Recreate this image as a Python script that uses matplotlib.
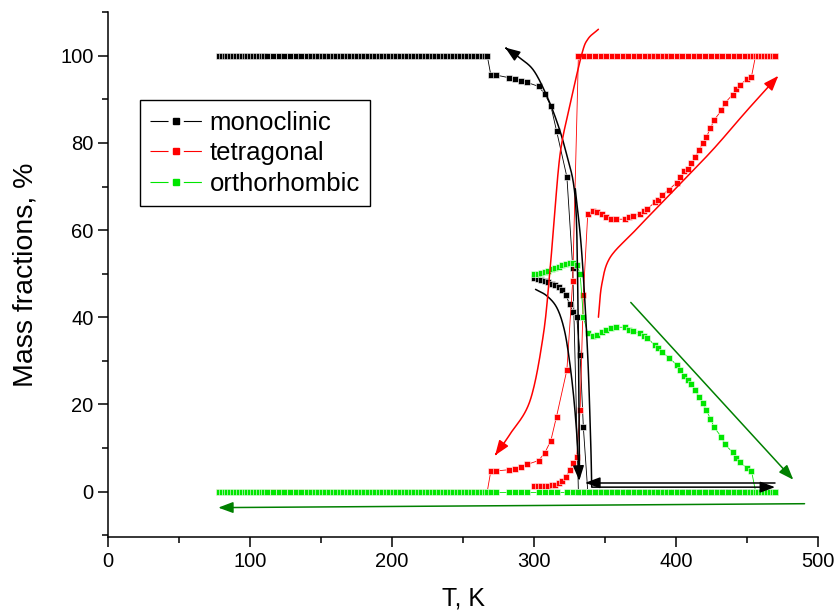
import numpy as np
import matplotlib
matplotlib.use('Agg')
import matplotlib.pyplot as plt
from matplotlib.path import Path
from matplotlib.patches import FancyArrowPatch
from matplotlib.lines import Line2D
from matplotlib.ticker import MultipleLocator

plt.rcParams['font.family'] = ['Liberation Sans', 'DejaVu Sans']

# ---- run A: plateau, transition near 265-330 K ----
T_plateau = [78, 80, 82, 84, 86, 88, 90, 92, 94, 96, 98, 100, 102, 104, 106, 108, 110, 112,
             116, 120, 124, 128, 132, 136, 140,
             143, 145.5, 148, 150.5, 153, 155.5, 158, 160.5, 163, 165.5, 168, 170.5, 173,
             175.5, 178, 180.5, 183, 185.5, 188, 190.5, 193, 195.5, 198, 200.5, 203, 205.5,
             208, 210.5, 213, 215.5, 218, 220.5, 223, 225.5, 228, 230.5, 233, 235.5, 238,
             240.5, 243, 245.5, 248, 250.5, 253, 255.5, 258, 260.5, 263, 265.5, 267]
T_trans_A = [269.5, 273, 282, 286.3, 290.8, 295, 303.1, 307.6, 311.8, 315.8, 323.1, 327.2]
T_high_A = [331.2, 335.2, 339, 343, 347, 350.8, 354.7, 358.6, 362.5, 366.4, 370.3, 374.2,
            378, 381.5, 384.5, 387.5, 390.5, 393.5, 396.5, 400.5, 404.5, 408.5, 412.5,
            416.5, 420.5, 424.5, 428.5, 432.5, 436.5, 440.5, 444.5, 448.5, 452, 454.5,
            457, 459.5, 462, 464.5, 467, 469.5]
mono_trans_A = [95.6, 95.6, 95.0, 94.6, 94.3, 93.9, 93.0, 91.2, 88.5, 82.8, 72.2, 51.4]
tetra_trans_A = [4.7, 4.7, 5.0, 5.2, 5.7, 6.2, 7.1, 8.9, 11.7, 17.2, 27.9, 48.4]

T_A = T_plateau + T_trans_A + T_high_A
mono_A = [100.0] * len(T_plateau) + mono_trans_A + [0.0] * len(T_high_A)
tetra_A = [0.0] * len(T_plateau) + tetra_trans_A + [100.0] * len(T_high_A)
ortho_A = [0.0] * len(T_A)

# ---- run B: starts at 300 K ----
T_low_B = [300, 302.5, 305, 307.5, 310, 312.5, 315, 317.5, 320, 322.5, 325, 327.5, 330,
           332.4, 334.7]
T_mid_B = [337.8, 341.3, 344, 347.9, 350.7, 354, 358, 363.7, 366.8, 369.5, 374.3, 377.1,
           379.7, 384.9, 387.5, 390.3, 395, 400.4, 403, 405.8, 408.4, 410.8, 413.6, 416.1,
           418.8, 421.4, 424.2, 426.9, 432, 434.5, 439.8, 442.5, 444.9, 450, 453.1]
T_end_B = [456, 458, 460, 462, 464, 466, 468, 470]

mono_low_B = [48.9, 48.8, 48.6, 48.3, 48.0, 47.7, 47.3, 46.9, 46.3, 45.0, 43.0, 41.2, 40.0,
              31.4, 14.7]
tetra_low_B = [1.2, 1.2, 1.2, 1.3, 1.3, 1.4, 1.6, 1.9, 2.4, 3.4, 4.9, 6.5, 7.9, 18.6, 45.1]
ortho_low_B = [49.9, 50.0, 50.2, 50.4, 50.7, 51.0, 51.3, 51.6, 52.0, 52.3, 52.5, 52.4, 52.1,
               50.0, 40.1]
tetra_mid_B = [63.8, 64.3, 64.1, 63.7, 63.1, 62.5, 62.5, 62.5, 62.9, 63.2, 63.7, 64.3, 64.8,
               66.4, 66.9, 68.1, 69.3, 70.9, 72.1, 73.5, 74.0, 75.3, 76.8, 78.4, 79.9, 81.4,
               83.4, 85.3, 87.5, 89.2, 91.1, 92.5, 93.3, 94.7, 95.2]
ortho_mid_B = [36.3, 35.8, 36.0, 36.5, 37.1, 37.5, 37.7, 37.7, 37.1, 36.8, 36.3, 35.8, 35.3,
               33.6, 33.0, 32.0, 30.7, 29.1, 27.9, 26.5, 25.7, 24.7, 23.3, 21.6, 20.3, 18.6,
               16.7, 14.7, 12.5, 10.8, 9.0, 7.7, 6.7, 5.4, 4.8]

T_B = T_low_B + T_mid_B + T_end_B
mono_B = mono_low_B + [0.0] * (len(T_mid_B) + len(T_end_B))
tetra_B = tetra_low_B + tetra_mid_B + [100.0] * len(T_end_B)
ortho_B = ortho_low_B + ortho_mid_B + [0.0] * len(T_end_B)

# hand-drawn arrows (data coords)
arrow_black_up = [(332.0, 3.3), (331.5, 25), (330.6, 50), (329.6, 64), (327.6, 71), (324, 76),
                  (318, 83), (310, 90), (300, 96.5), (290, 99.5), (279.6, 101.9)]
arrow_black_down = [(301, 46.4), (309, 44.9), (316, 42.2), (321, 37.5), (324.5, 31),
                    (327.8, 22), (330.3, 12), (331.8, 2.5)]
arrow_black_right = [(329.0, 69.5), (333.5, 55), (337.6, 32.3), (339.8, 12), (340.6, 1.0)]
arrow_black_right_end = (469.7, 1.0)
arrow_black_left = [(469.7, 2.0), (336.0, 2.0)]
arrow_red_down = [(345.3, 106.1), (338, 103.9), (333.6, 100.4), (325.4, 88.9), (318.3, 77.4),
                  (313.6, 60), (311.3, 51.4), (306.6, 36.2), (297.2, 20.9), (283.1, 13.2),
                  (272.5, 8.3)]
arrow_red_up = [(345.3, 40), (347.7, 47.6), (353.5, 53.7), (370, 59.5), (381.7, 63.5),
                (402.8, 70.6), (426.3, 78.6), (449.8, 87.4), (472, 95.4)]
arrow_green_diag = [(368.1, 43.4), (482.6, 2.7)]
arrow_green_low = [(490.5, -2.8), (77.5, -3.7)]

BLACK = '#000000'
RED = '#ff0000'
GREEN = '#00e600'
DKGREEN = '#008000'


def smooth(pts, n=24):
    # Catmull-Rom through the picked points
    p = np.asarray(pts, float)
    p = np.vstack([2 * p[0] - p[1], p, 2 * p[-1] - p[-2]])
    out = []
    for i in range(1, len(p) - 2):
        p0, p1, p2, p3 = p[i - 1], p[i], p[i + 1], p[i + 2]
        for t in np.linspace(0, 1, n, endpoint=False):
            out.append(0.5 * (2 * p1 + (-p0 + p2) * t + (2 * p0 - 5 * p1 + 4 * p2 - p3) * t ** 2
                              + (-p0 + 3 * p1 - 3 * p2 + p3) * t ** 3))
    out.append(p[-2])
    return np.array(out)


def draw_arrow(ax, verts, color, lw=1.1):
    a = FancyArrowPatch(path=Path(np.asarray(verts, float)),
                        arrowstyle='-|>,head_length=0.75,head_width=0.28',
                        mutation_scale=12, color=color, lw=lw, zorder=6)
    ax.add_patch(a)


fig = plt.figure(figsize=(8.39, 6.14), dpi=100)
ax = fig.add_axes([0.129, 0.125, 0.846, 0.855])

style = dict(marker='s', markersize=4.8, markeredgecolor='white', markeredgewidth=0.4, lw=0.6)
ax.plot(T_A, mono_A, color=BLACK, zorder=2, **style)
ax.plot(T_B, mono_B, color=BLACK, zorder=2, **style)
ax.plot(T_A, tetra_A, color=RED, zorder=3, **style)
ax.plot(T_B, tetra_B, color=RED, zorder=3, **style)
ax.plot(T_A, ortho_A, color=GREEN, zorder=4, **style)
ax.plot(T_B, ortho_B, color=GREEN, zorder=4, **style)

draw_arrow(ax, smooth(arrow_black_up), BLACK)
draw_arrow(ax, smooth(arrow_black_down), BLACK)
draw_arrow(ax, np.vstack([smooth(arrow_black_right), [arrow_black_right_end]]), BLACK)
draw_arrow(ax, arrow_black_left, BLACK)
draw_arrow(ax, smooth(arrow_red_down), RED)
draw_arrow(ax, smooth(arrow_red_up), RED)
draw_arrow(ax, arrow_green_diag, DKGREEN)
draw_arrow(ax, arrow_green_low, DKGREEN)

ax.set_xlim(0, 500)
ax.set_ylim(-10.5, 110)
ax.xaxis.set_major_locator(MultipleLocator(100))
ax.xaxis.set_minor_locator(MultipleLocator(50))
ax.yaxis.set_major_locator(MultipleLocator(20))
ax.yaxis.set_minor_locator(MultipleLocator(10))
ax.tick_params(which='major', direction='out', length=7, width=1.1, labelsize=14.5)
ax.tick_params(which='minor', direction='out', length=4.5, width=1.1)
for s in ('top', 'right'):
    ax.spines[s].set_visible(False)
for s in ('left', 'bottom'):
    ax.spines[s].set_linewidth(1.1)

ax.set_xlabel('T, K', fontsize=18, labelpad=11)
ax.set_ylabel('Mass fractions, %', fontsize=20.5, labelpad=16)

handles = [Line2D([], [], color=c, lw=0.8, dashes=(16.25, 13.75), marker='s', markersize=4.8,
                  markeredgecolor=c) for c in (BLACK, RED, GREEN)]
leg = ax.legend(handles, ['monoclinic', 'tetragonal', 'orthorhombic'], loc='upper left',
                bbox_to_anchor=(0.045, 0.832), borderaxespad=0, fontsize=18.5,
                handlelength=2.0, handletextpad=0.3, labelspacing=0.26, borderpad=0.4,
                fancybox=False, framealpha=1, numpoints=1)
leg.get_frame().set_edgecolor('black')
leg.get_frame().set_linewidth(1.0)

fig.savefig('out.png', dpi=100)
